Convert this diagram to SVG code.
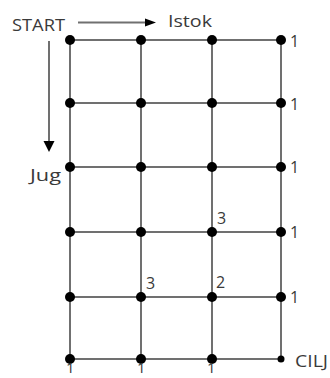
<svg xmlns="http://www.w3.org/2000/svg" width="330" height="378" viewBox="0 0 330 378">
<style>
text{font-family:"Open Sans","Liberation Sans",sans-serif;fill:#3a3a3a;font-size:16px}
.g{stroke:#707070;stroke-width:2;fill:none}
.d{fill:#000}
.b{font-size:15px}
</style>
<rect width="330" height="378" fill="#fff"/>
<g id="connectors">
<path class="g" d="M70 40H281M70 103H281M70 167H281M70 232H281M70 297H281M70 359H281"/>
<path class="g" d="M70 40V359M141 40V359M212 40V359M281 40V359"/>
<path class="g" d="M78 22.5H146"/>
<polygon class="d" fill="#222" points="145,18.5 156,22.5 145,26.5"/>
<path class="g" d="M49 41V142"/>
<polygon class="d" fill="#222" points="43.5,141 54.5,141 49,152"/>
</g>
<g id="labels">
<text x="12" y="31" textLength="53" lengthAdjust="spacingAndGlyphs">START</text>
<text x="168" y="26.5" textLength="44" lengthAdjust="spacingAndGlyphs">Istok</text>
<text x="30" y="180.5" textLength="31" lengthAdjust="spacingAndGlyphs">Jug</text>
<text x="295" y="366.5" textLength="33" lengthAdjust="spacingAndGlyphs">CILJ</text>
</g>
<g id="col1">
<circle class="d" cx="70" cy="40" r="5"/><circle class="d" cx="70" cy="103" r="5"/><circle class="d" cx="70" cy="167" r="5"/><circle class="d" cx="70" cy="232" r="5"/><circle class="d" cx="70" cy="297" r="5"/><circle class="d" cx="70" cy="359" r="5"/>
<text class="b" x="66" y="373">1</text>
</g>
<g id="col2">
<circle class="d" cx="141" cy="40" r="5"/><circle class="d" cx="141" cy="103" r="5"/><circle class="d" cx="141" cy="167" r="5"/><circle class="d" cx="141" cy="232" r="5"/><circle class="d" cx="141" cy="297" r="5"/><circle class="d" cx="141" cy="359" r="5"/>
<text x="146" y="289">3</text>
<text class="b" x="137" y="373">1</text>
</g>
<g id="col3">
<circle class="d" cx="212" cy="40" r="5"/><circle class="d" cx="212" cy="103" r="5"/><circle class="d" cx="212" cy="167" r="5"/><circle class="d" cx="212" cy="232" r="5"/><circle class="d" cx="212" cy="297" r="5"/><circle class="d" cx="212" cy="359" r="5"/>
<text x="217" y="224">3</text>
<text x="216" y="288">2</text>
<text class="b" x="207" y="373">1</text>
</g>
<g id="col4">
<circle class="d" cx="281" cy="40" r="5"/><circle class="d" cx="281" cy="103" r="5"/><circle class="d" cx="281" cy="167" r="5"/><circle class="d" cx="281" cy="232" r="5"/><circle class="d" cx="281" cy="297" r="5"/><circle class="d" cx="281" cy="359" r="3.5"/>
<text x="290" y="47">1</text><text x="290" y="110">1</text><text x="290" y="173">1</text><text x="290" y="238">1</text><text x="290" y="303">1</text>
</g>
</svg>
